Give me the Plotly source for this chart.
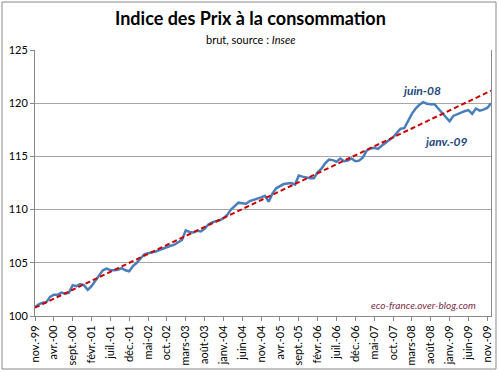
import plotly.graph_objects as go

# Monthly raw CPI (Insee), Nov-99 .. Dec-09
ipc = [100.85, 101.1, 101.25, 101.3, 101.8, 102.0, 102.0, 102.2, 102.1, 102.2,
       102.9, 102.8, 103.0, 102.9, 102.45, 102.8, 103.3, 103.8, 104.3, 104.45,
       104.3, 104.3, 104.35, 104.5, 104.3, 104.2, 104.7, 105.0, 105.4, 105.8,
       105.9, 105.95, 106.05, 106.2, 106.35, 106.5, 106.6, 106.7, 106.9, 107.15,
       108.05, 107.9, 107.85, 108.0, 107.95, 108.2, 108.6, 108.8, 108.9, 109.0,
       109.2, 109.5, 110.0, 110.3, 110.65, 110.6, 110.55, 110.8, 110.9, 111.05,
       111.15, 111.3, 110.75, 111.5, 112.0, 112.2, 112.4, 112.45, 112.5, 112.35,
       113.2, 113.1, 113.0, 112.95, 112.95, 113.5, 113.85, 114.35, 114.7, 114.65,
       114.5, 114.8, 114.55, 114.6, 114.8, 114.55, 114.6, 114.9, 115.55, 115.75,
       115.8, 115.7, 116.0, 116.3, 116.55, 116.8, 117.2, 117.6, 117.65, 118.4,
       119.0, 119.5, 119.85, 120.1, 119.95, 119.9, 119.9, 119.5, 119.1, 118.6,
       118.3, 118.8, 118.95, 119.15, 119.25, 119.35, 119.0, 119.5, 119.3, 119.4,
       119.55, 120.0]

# Linear trend (start / end values)
trend_x = [0, 121]
trend_y = [100.78, 121.17]

tick_labels = ["nov.-99", "avr.-00", "sept.-00", "févr.-01", "juil.-01", "déc.-01",
               "mai-02", "oct.-02", "mars-03", "août-03", "janv.-04", "juin-04",
               "nov.-04", "avr.-05", "sept.-05", "févr.-06", "juil.-06", "déc.-06",
               "mai-07", "oct.-07", "mars-08", "août-08", "janv.-09", "juin-09",
               "nov.-09"]
y_ticks = [100, 105, 110, 115, 120, 125]

x = list(range(len(ipc)))

FONT = "Lato"
fig = go.Figure()
fig.add_trace(go.Scatter(x=x, y=ipc, mode="lines",
                         line=dict(color="#4a7ebb", width=2.5), hoverinfo="skip"))
fig.add_trace(go.Scatter(x=trend_x, y=trend_y, mode="lines",
                         line=dict(color="#cc0000", width=2, dash="5px,3px"), hoverinfo="skip"))

fig.update_layout(
    width=499, height=372,
    margin=dict(l=35, r=8, t=50, b=56, autoexpand=False),
    paper_bgcolor="white", plot_bgcolor="white",
    showlegend=False,
    font=dict(family=FONT, size=11, color="#000000"),
    xaxis=dict(range=[0, len(ipc) - 1], tickmode="array",
               tickvals=list(range(0, len(ipc), 5)), ticktext=tick_labels,
               tickangle=-90, ticks="outside", ticklen=4, tickcolor="#888888",
               showline=True, linecolor="#888888", linewidth=1, mirror=False,
               showgrid=False, zeroline=False, automargin=False,
               tickfont=dict(size=11, family=FONT)),
    yaxis=dict(range=[100, 125], tickvals=y_ticks, ticks="outside", ticklen=4,
               tickcolor="#888888", showline=True, linecolor="#888888", linewidth=1,
               mirror=True, showgrid=True, gridcolor="#a6a6a6", gridwidth=1,
               zeroline=False, automargin=False, tickfont=dict(size=11, family=FONT)),
    annotations=[
        dict(text="<b>Indice des Prix à la consommation</b>", xref="paper", yref="paper",
             x=(250 - 35) / 456, y=(316 - 18) / 266, showarrow=False,
             font=dict(size=18, family=FONT), xanchor="center", yanchor="middle"),
        dict(text="brut, source : <i>Insee</i>", xref="paper", yref="paper",
             x=(250 - 35) / 456, y=(316 - 39) / 266, showarrow=False,
             font=dict(size=11, family=FONT), xanchor="center", yanchor="middle"),
        dict(text="<b><i>juin-08</i></b>", x=102.5, y=121.2, showarrow=False,
             font=dict(size=12, color="#1f497d", family=FONT)),
        dict(text="<b><i>janv.-09</i></b>", x=109, y=116.4, showarrow=False,
             font=dict(size=12, color="#1f497d", family=FONT)),
        dict(text="<i>eco-france.over-blog.com</i>", xref="paper", yref="paper",
             x=(478 - 35) / 456, y=(316 - 305) / 266, showarrow=False,
             xanchor="right", yanchor="middle",
             font=dict(size=10, color="#7b2c48", family=FONT)),
    ],
    shapes=[dict(type="rect", xref="paper", yref="paper",
                 x0=(2 - 35) / 456, x1=(496 - 35) / 456,
                 y0=(316 - 369) / 266, y1=(316 - 2) / 266,
                 line=dict(color="#888888", width=1), layer="below")],
)

fig.write_html("out.html", config={"displayModeBar": False},
               post_script="document.body.style.margin='0';")
